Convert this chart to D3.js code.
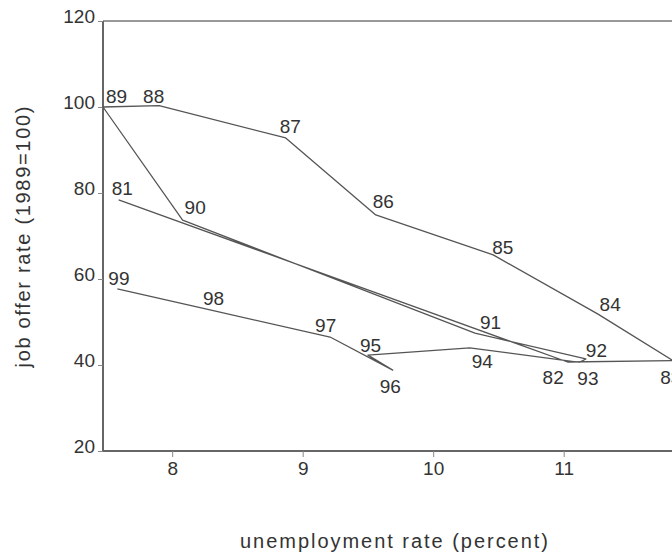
<!DOCTYPE html>
<html>
<head>
<meta charset="utf-8">
<script src="https://cdn.jsdelivr.net/npm/d3@7"></script>
<style>
  body { margin: 0; background: #fff; }
  text { font-family: "Liberation Sans", Arial, sans-serif; fill: #333; }
</style>
</head>
<body>
<div id="chart"></div>
<script>
// year labels, unemployment rate (x) and job offer rate 1989=100 (y)
var years = ["81","82","83","84","85","86","87","88","89","90","91","92","93","94","95","96","97","98","99"];
var unemp = [7.59, 11.03, 11.84, 11.26, 10.46, 9.56, 8.87, 7.90, 7.47, 8.08, 10.32, 11.17, 11.12, 10.28, 9.50, 9.69, 9.21, 8.29, 7.58];
var jobOffer = [78.4, 40.7, 41.0, 51.9, 65.6, 74.9, 92.8, 100.3, 100, 73.7, 47.4, 41.4, 40.6, 44.0, 42.3, 38.8, 46.5, 52.8, 57.7];
var xTicks = [8, 9, 10, 11];
var yTicks = [20, 40, 60, 80, 100, 120];

// where each year label sits relative to its point
var labelOffset = {
  "81": [-7, -5], "82": [-25, 22], "83": [-13, 23], "84": [2, -3], "85": [-1, -1],
  "86": [-3, -7], "87": [-6, -5], "88": [-16, -3], "89": [3, -4], "90": [2, -6],
  "91": [5, -4], "92": [0, -2], "93": [-2, 23], "94": [2, 20], "95": [-8, -3],
  "96": [-13, 23], "97": [-15, -5], "98": [-7, -5], "99": [-9, -4]
};

var width = 672, height = 555;
var margin = {top: 21, left: 103, bottom: 104};
var fontSize = 19;

var svg = d3.select("#chart").append("svg")
    .attr("width", width)
    .attr("height", height);

var x = d3.scaleLinear()
    .domain([7.47, 11.83])
    .range([margin.left, 672]);

var y = d3.scaleLinear()
    .domain([20, 120])
    .range([height - margin.bottom, margin.top]);

var data = years.map(function(d, i) {
  return {year: d, u: unemp[i], j: jobOffer[i]};
});

// top frame line
svg.append("line")
    .attr("x1", margin.left).attr("x2", width + 10)
    .attr("y1", y(120)).attr("y2", y(120))
    .attr("stroke", "#777").attr("stroke-width", 1.5);

// x axis
var gx = svg.append("g")
    .attr("transform", "translate(0," + y(20) + ")")
    .call(d3.axisBottom(x).tickValues(xTicks).tickSize(6).tickPadding(5)
      .tickFormat(d3.format("d")));
gx.select(".domain").attr("stroke", "#666").attr("stroke-width", 2)
    .attr("d", "M" + margin.left + ",0H" + (width + 10));
gx.selectAll(".tick line").attr("stroke", "#888");
gx.selectAll(".tick text").attr("font-size", fontSize).attr("fill", "#333");

// y axis
var gy = svg.append("g")
    .attr("transform", "translate(" + margin.left + ",0)")
    .call(d3.axisLeft(y).tickValues(yTicks).tickSize(5).tickPadding(3));
gy.select(".domain").attr("stroke", "#666").attr("stroke-width", 2)
    .attr("d", "M0," + y(120) + "V" + y(20));
gy.selectAll(".tick line").attr("stroke", "#888");
gy.selectAll(".tick text").attr("font-size", fontSize).attr("fill", "#333")
    .attr("dy", "0.1em");
svg.selectAll(".tick text").style("font-family", "'Liberation Sans', Arial, sans-serif");

// the path through the years
var line = d3.line()
    .x(function(d) { return x(d.u); })
    .y(function(d) { return y(d.j); });

svg.append("path")
    .datum(data)
    .attr("d", line)
    .attr("fill", "none")
    .attr("stroke", "#555")
    .attr("stroke-width", 1.3)
    .attr("stroke-linejoin", "round");

// year labels
svg.append("g")
  .selectAll("text")
  .data(data)
  .enter()
  .append("text")
    .attr("x", function(d) { return x(d.u) + labelOffset[d.year][0]; })
    .attr("y", function(d) { return y(d.j) + labelOffset[d.year][1]; })
    .attr("font-size", fontSize)
    .text(function(d) { return d.year; });

// axis titles
svg.append("text")
    .attr("x", 394)
    .attr("y", 548)
    .attr("text-anchor", "middle")
    .attr("font-size", 20)
    .attr("textLength", 308)
    .attr("lengthAdjust", "spacing")
    .text("unemployment rate (percent)");

svg.append("text")
    .attr("transform", "translate(30,237) rotate(-90)")
    .attr("text-anchor", "middle")
    .attr("font-size", 20)
    .attr("textLength", 261)
    .attr("lengthAdjust", "spacing")
    .text("job offer rate (1989=100)");
</script>
</body>
</html>
